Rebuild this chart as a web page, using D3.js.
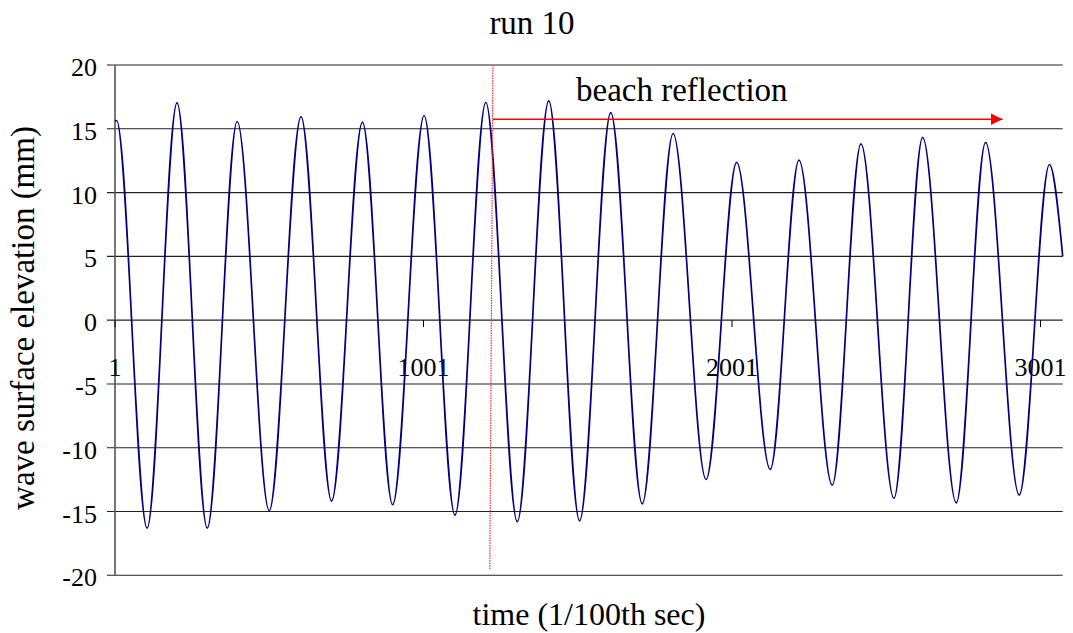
<!DOCTYPE html>
<html>
<head>
<meta charset="utf-8">
<script src="https://cdn.jsdelivr.net/npm/d3@7/dist/d3.min.js"></script>
<style>
  html, body { margin: 0; padding: 0; background: #fff; }
  svg { display: block; }
</style>
</head>
<body>
<svg id="chart" width="1073" height="633"></svg>
<script>
// Wave gauge record, run 10: sample index (1/100 s) and surface elevation (mm)
// at each crest and trough of the record, plus the first and last samples.
const sampleCount = 3073;
const startSample = [1, 15.6];
const endSample = [3073, 5.0];
const crestIndex = [6, 202, 397, 604, 803, 1003, 1203, 1407, 1608, 1810, 2016, 2218, 2419, 2619, 2823, 3030];
const crestValue = [15.65, 17.03, 15.57, 15.96, 15.52, 16.04, 17.06, 17.19, 16.27, 14.63, 12.36, 12.54, 13.82, 14.32, 13.93, 12.2];
const troughIndex = [105, 300, 501, 703, 901, 1103, 1305, 1507, 1710, 1917, 2125, 2326, 2526, 2728, 2932];
const troughValue = [-16.3, -16.3, -14.94, -14.18, -14.47, -15.28, -15.8, -15.73, -14.4, -12.49, -11.7, -12.93, -13.97, -14.32, -13.71];

// Axis ticks
const yTicks = [-20, -15, -10, -5, 0, 5, 10, 15, 20];
const xTickLabels = ["1", "1001", "2001", "3001"];

// Onset of the beach reflection (sample index) and the span of the arrow
const reflectionTop = 1226, reflectionBottom = 1216;
const arrowStart = 1226, arrowEnd = 2878, arrowLevel = 15.75;

const serif = "'Liberation Serif', 'Times New Roman', 'DejaVu Serif', serif";

const svg = d3.select("#chart")
  .attr("font-family", serif)
  .style("font-family", serif);

const x = d3.scaleLinear().domain([1, sampleCount]).range([115, 1062.7]);
const y = d3.scaleLinear().domain([-20, 20]).range([575.3, 65]);

// Horizontal gridlines (extend past the axis as tick marks)
svg.append("g")
  .selectAll("line")
  .data(yTicks)
  .join("line")
  .attr("x1", 107)
  .attr("x2", x.range()[1])
  .attr("y1", d => y(d))
  .attr("y2", d => y(d))
  .attr("stroke", "#222")
  .attr("stroke-width", 1.1);

// Y axis line
svg.append("line")
  .attr("x1", x(1)).attr("x2", x(1))
  .attr("y1", y(20)).attr("y2", y(-20))
  .attr("stroke", "#555")
  .attr("stroke-width", 1.6);

// Y tick labels
svg.append("g")
  .selectAll("text")
  .data(yTicks)
  .join("text")
  .attr("font-family", serif)
  .attr("x", 97)
  .attr("y", d => y(d) + 11)
  .attr("text-anchor", "end")
  .attr("font-size", 26)
  .attr("fill", "#000")
  .text(d => d);

// X axis ticks on the zero line
const xTickIdx = xTickLabels.map(Number);
svg.append("g")
  .selectAll("line")
  .data(xTickIdx)
  .join("line")
  .attr("x1", d => x(d)).attr("x2", d => x(d))
  .attr("y1", y(0)).attr("y2", y(0) + 7)
  .attr("stroke", "#000")
  .attr("stroke-width", 1);

svg.append("g")
  .selectAll("text")
  .data(xTickLabels)
  .join("text")
  .attr("font-family", serif)
  .attr("x", d => x(+d))
  .attr("y", 376)
  .attr("text-anchor", "middle")
  .attr("font-size", 26)
  .attr("fill", "#000")
  .text(d => d);

// Wave trace through the recorded extrema
const points = [startSample]
  .concat(crestIndex.map((t, i) => [t, crestValue[i]]))
  .concat(troughIndex.map((t, i) => [t, troughValue[i]]))
  .concat([endSample])
  .sort((a, b) => a[0] - b[0]);

const line = d3.line()
  .x(d => x(d[0]))
  .y(d => y(d[1]))
  .curve(d3.curveMonotoneX);

svg.append("path")
  .datum(points)
  .attr("d", line)
  .attr("fill", "none")
  .attr("stroke", "#000080")
  .attr("stroke-width", 1.7);

// Reflection marker
svg.append("line")
  .attr("x1", x(reflectionTop)).attr("y1", y(20))
  .attr("x2", x(reflectionBottom)).attr("y2", y(-19.5))
  .attr("stroke", "#ff3030")
  .attr("stroke-width", 1.2)
  .attr("stroke-dasharray", "1.5,1");

svg.append("defs").append("marker")
  .attr("id", "arrowhead")
  .attr("viewBox", "0 0 10 10")
  .attr("refX", 10).attr("refY", 5)
  .attr("markerUnits", "userSpaceOnUse")
  .attr("markerWidth", 12).attr("markerHeight", 12)
  .attr("orient", "auto")
  .append("path")
  .attr("d", "M0,0 L10,5 L0,10 Z")
  .attr("fill", "#ff0000");

svg.append("line")
  .attr("x1", x(arrowStart)).attr("y1", y(arrowLevel))
  .attr("x2", x(arrowEnd)).attr("y2", y(arrowLevel))
  .attr("stroke", "#ff0000")
  .attr("stroke-width", 1.6)
  .attr("marker-end", "url(#arrowhead)");

svg.append("text")
  .attr("font-family", serif)
  .attr("x", 576)
  .attr("y", 101)
  .attr("font-size", 33)
  .text("beach reflection");

// Titles
svg.append("text")
  .attr("font-family", serif)
  .attr("x", 532)
  .attr("y", 34)
  .attr("text-anchor", "middle")
  .attr("font-size", 33)
  .text("run 10");

svg.append("text")
  .attr("font-family", serif)
  .attr("x", 589)
  .attr("y", 625)
  .attr("text-anchor", "middle")
  .attr("font-size", 32)
  .text("time (1/100th sec)");

svg.append("text")
  .attr("font-family", serif)
  .attr("transform", "translate(34,318) rotate(-90)")
  .attr("text-anchor", "middle")
  .attr("font-size", 33)
  .text("wave surface elevation (mm)");
</script>
</body>
</html>
